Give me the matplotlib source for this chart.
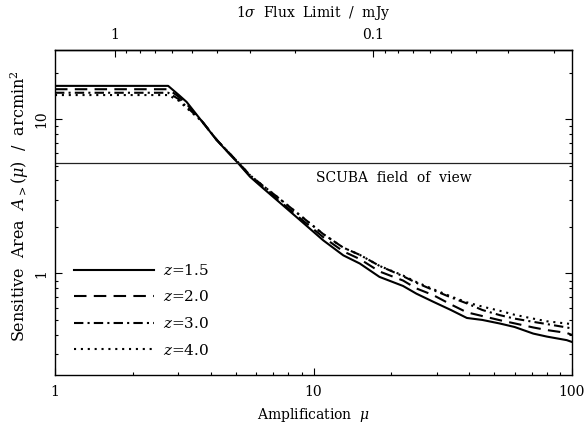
import matplotlib
matplotlib.use("Agg")
import matplotlib.pyplot as plt
from matplotlib.ticker import FuncFormatter, NullFormatter, LogLocator, FixedLocator

plt.rcParams['font.family'] = ['DejaVu Serif']
plt.rcParams['mathtext.fontset'] = 'dejavuserif'

# ---- data ----
mu = [1.0, 2.74, 3.0, 3.23, 3.7, 4.22, 4.7, 5.12, 5.68, 6.4, 7.21, 8.87, 10.9, 13.04,
      15.1, 18.0, 22.2, 25.0, 29.1, 34.0, 39.2, 45.0, 52.6, 60.0, 70.8, 80.0, 95.4, 100.0]

a_z15 = [16.4, 16.4, 14.4, 12.9, 9.67, 7.31, 6.01, 5.16, 4.23, 3.55, 2.99, 2.215, 1.64, 1.31,
         1.16, 0.95, 0.83, 0.74, 0.655, 0.58, 0.515, 0.50, 0.474, 0.45, 0.408, 0.39, 0.37, 0.36]
a_z20 = [15.6, 15.6, 14.0, 12.5, 9.7, 7.33, 6.04, 5.2, 4.28, 3.6, 3.05, 2.28, 1.72, 1.39,
         1.24, 1.03, 0.90, 0.80, 0.723, 0.63, 0.56, 0.53, 0.498, 0.475, 0.447, 0.43, 0.412, 0.40]
a_z30 = [14.8, 14.8, 13.5, 12.0, 9.7, 7.35, 6.07, 5.23, 4.33, 3.68, 3.15, 2.38, 1.80, 1.47,
         1.32, 1.12, 0.96, 0.87, 0.78, 0.70, 0.64, 0.58, 0.537, 0.51, 0.486, 0.47, 0.447, 0.44]
a_z40 = [14.3, 14.3, 13.2, 11.8, 9.65, 7.35, 6.07, 5.23, 4.33, 3.68, 3.15, 2.38, 1.80, 1.47,
         1.32, 1.12, 0.97, 0.88, 0.79, 0.71, 0.65, 0.61, 0.573, 0.54, 0.51, 0.49, 0.474, 0.47]

labels = ["$z$=1.5", "$z$=2.0", "$z$=3.0", "$z$=4.0"]
scuba_area = 5.16
flux_scale = 1.7   # flux limit (mJy) = flux_scale / mu

xticks = [1, 10, 100]
yticks = [1, 10]
flux_ticks = [1, 0.1]

# ---- figure ----
fig = plt.figure(figsize=(5.86, 4.24), dpi=100)
fig.subplots_adjust(left=55/586, right=572/586, top=1-50/424, bottom=1-375/424)
ax = fig.add_subplot(111)

lw = 1.5
ax.plot(mu, a_z15, color='black', lw=lw, ls='-', label=labels[0])
ax.plot(mu, a_z20, color='black', lw=lw, ls=(0, (6, 3.5)), label=labels[1])
ax.plot(mu, a_z30, color='black', lw=lw, ls=(0, (4.5, 2, 1, 2)), label=labels[2])
ax.plot(mu, a_z40, color='black', lw=lw, ls=(0, (1, 2.3)), label=labels[3])

ax.axhline(scuba_area, color='#222222', lw=0.9)
ax.text(0.655, 0.606, "SCUBA  field  of  view", transform=ax.transAxes,
        ha='center', va='center', fontsize=10)

ax.set_xscale('log')
ax.set_yscale('log')
ax.set_xlim(1, 100)
ax.set_ylim(0.22, 28)

fmt = FuncFormatter(lambda v, p: "%g" % v)
ax.xaxis.set_major_locator(FixedLocator(xticks))
ax.yaxis.set_major_locator(FixedLocator(yticks))
ax.xaxis.set_minor_locator(LogLocator(base=10, subs=range(2, 10)))
ax.yaxis.set_minor_locator(LogLocator(base=10, subs=range(2, 10)))
ax.xaxis.set_major_formatter(fmt)
ax.yaxis.set_major_formatter(fmt)
ax.xaxis.set_minor_formatter(NullFormatter())
ax.yaxis.set_minor_formatter(NullFormatter())

ax.tick_params(which='both', direction='in', top=False, right=True, width=0.8, labelsize=10)
ax.tick_params(which='major', length=5)
ax.tick_params(which='minor', length=2.5)
ax.tick_params(axis='x', pad=7)
ax.tick_params(axis='y', labelrotation=90, pad=5)
for lab in ax.get_yticklabels():
    lab.set_va('center')

for s in ax.spines.values():
    s.set_linewidth(1.0)

ax.set_xlabel(r"Amplification  $\mu$", fontsize=10, labelpad=5)
ax.set_ylabel(r"Sensitive  Area  $A_{>}(\mu)$  /  arcmin$^2$", fontsize=11.5, labelpad=2)
ax.yaxis.set_label_coords(-0.046, 0.52)

sec = ax.secondary_xaxis('top', functions=(lambda m: flux_scale / m, lambda f: flux_scale / f))
sec.xaxis.set_major_locator(FixedLocator(flux_ticks))
sec.xaxis.set_minor_locator(LogLocator(base=10, subs=range(2, 10)))
sec.xaxis.set_major_formatter(fmt)
sec.xaxis.set_minor_formatter(NullFormatter())
sec.tick_params(which='both', direction='in', width=0.8, labelsize=10, pad=6)
sec.tick_params(which='major', length=5)
sec.tick_params(which='minor', length=2.5)
sec.spines['top'].set_linewidth(1.0)
sec.set_xlabel(r"1$\sigma$  Flux  Limit  /  mJy", fontsize=10, labelpad=8)

leg = ax.legend(loc='upper left', bbox_to_anchor=(0.037, 0.345), frameon=False,
                handlelength=5.2, handletextpad=0.6, labelspacing=0.76,
                borderpad=0, borderaxespad=0, fontsize=11)

fig.savefig("out.png", dpi=100)
